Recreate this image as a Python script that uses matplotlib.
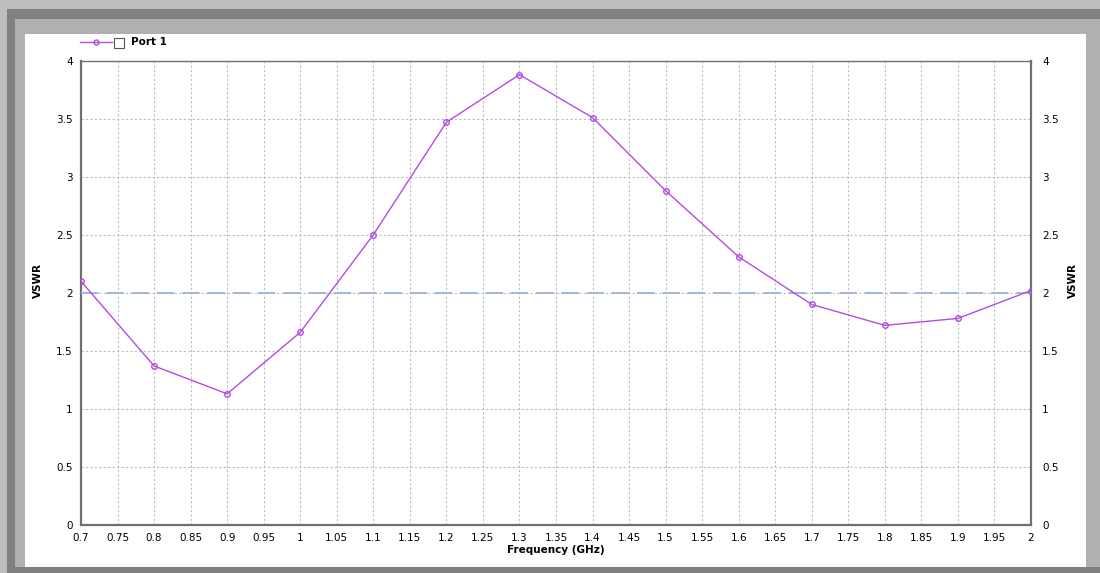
import numpy as np
import matplotlib
matplotlib.use("Agg")
import matplotlib.pyplot as plt
from matplotlib.patches import Rectangle
from matplotlib.lines import Line2D

plt.rcParams['font.family'] = ['DejaVu Sans']

# données
freq = [0.7, 0.8, 0.9, 1.0, 1.1, 1.2, 1.3, 1.4, 1.5, 1.6, 1.7, 1.8, 1.9, 2.0]
vswr = [2.10, 1.37, 1.13, 1.66, 2.50, 3.47, 3.88, 3.51, 2.88, 2.31, 1.90, 1.72, 1.78, 2.02]
seuil = 2.0
xticks = np.round(np.arange(0.7, 2.0001, 0.05), 2)
yticks = np.arange(0, 4.01, 0.5)

W, H = 1100, 573
fig = plt.figure(figsize=(W/100, H/100), dpi=100)
fig.patch.set_facecolor('#bdbdbd')

# cadre gris + panneau blanc (coords en pixels)
def rect_px(x0, y0, x1, y1, color):
    fig.add_artist(Rectangle((x0/W, 1-y1/H), (x1-x0)/W, (y1-y0)/H,
                             transform=fig.transFigure, facecolor=color,
                             edgecolor='none', zorder=0))

rect_px(7, 9, 1100, 573, '#808080')
rect_px(15, 19, 1100, 567, '#b0b0b0')
rect_px(25, 34, 1086, 567, 'white')

ax = fig.add_axes([81/W, 48/H, 950/W, (525-60.7)/H])
ax.set_facecolor('white')

ax.plot(freq, vswr, color='#b44be6', lw=1.0, marker='o', ms=4,
        mfc='none', mec='#b44be6', mew=1.0, zorder=4)
ax.axhline(seuil, color='#9fb7dd', lw=1.4, dashes=(9, 4), zorder=3)

ax.set_xlim(0.7, 2.0)
ax.set_ylim(0, 4)
ax.set_xticks(xticks)
ax.set_xticklabels(['%g' % t for t in xticks])
ax.set_yticks(yticks)
ax.set_yticklabels(['%g' % t for t in yticks])
ax.grid(True, color='#bdbdbd', ls=(0, (2, 2)), lw=0.8)
ax.tick_params(length=0, labelsize=7.5, pad=6)
for s in ['left', 'bottom', 'right']:
    ax.spines[s].set_color('#707070')
    ax.spines[s].set_linewidth(1.6)
ax.spines['top'].set_color('#707070')
ax.spines['top'].set_linewidth(1.0)

ax2 = ax.twinx()
ax2.set_ylim(0, 4)
ax2.set_yticks(yticks)
ax2.set_yticklabels(['%g' % t for t in yticks])
ax2.tick_params(length=0, labelsize=7.5, pad=8)
for s in ax2.spines.values():
    s.set_visible(False)

ax.set_xlabel('Frequency (GHz)', fontsize=7.5, fontweight='bold', labelpad=1)
fig.text(38/W, 1-280/H, 'VSWR', rotation=90, fontsize=7.5, fontweight='bold',
         ha='center', va='center')
fig.text(1073/W, 1-280/H, 'VSWR', rotation=90, fontsize=7.5, fontweight='bold',
         ha='center', va='center')

# légende façon logiciel
ly = 1-42/H
fig.add_artist(Line2D([80/W, 112/W], [ly, ly], color='#b44be6', lw=1.0,
                      transform=fig.transFigure))
fig.add_artist(Line2D([96/W], [ly], color='#b44be6', marker='o', ms=3.5,
                      mfc='none', mew=1.0, transform=fig.transFigure))
fig.add_artist(Rectangle((114/W, 1-48/H), 10/W, 10/H, transform=fig.transFigure,
                         facecolor='white', edgecolor='#555555', lw=0.8))
fig.text(131/W, ly, 'Port 1', fontsize=7.5, fontweight='bold', va='center')

fig.savefig('out.png', dpi=100, facecolor=fig.get_facecolor())
